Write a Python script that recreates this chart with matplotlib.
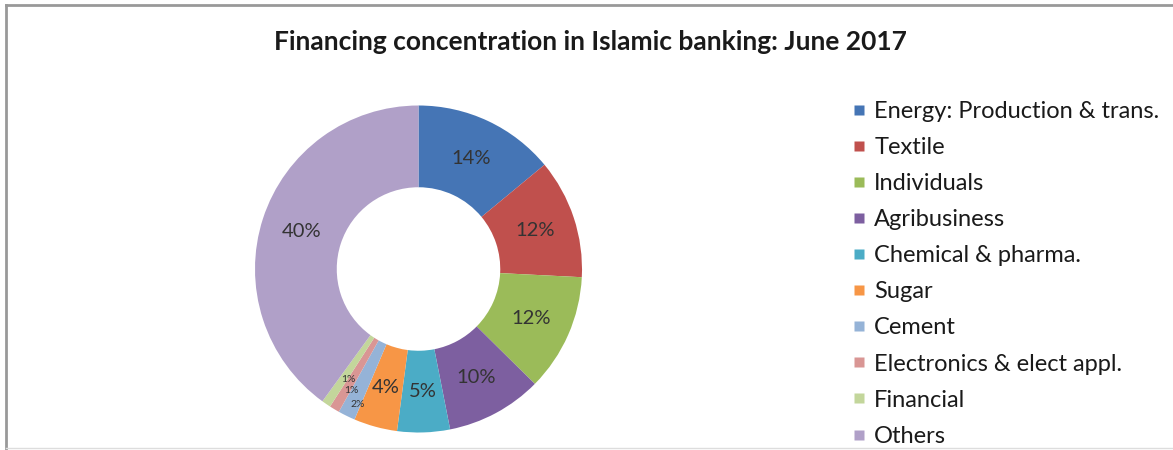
import numpy as np
import matplotlib
matplotlib.use('Agg')
import matplotlib.pyplot as plt
from matplotlib.lines import Line2D

plt.rcParams['font.family'] = ['Lato', 'DejaVu Sans']

# data (share of financing, %)
sectors = ['Energy: Production & trans.', 'Textile', 'Individuals', 'Agribusiness',
           'Chemical & pharma.', 'Sugar', 'Cement', 'Electronics & elect appl.',
           'Financial', 'Others']
shares = [14.0, 11.8, 11.6, 9.5, 5.2, 4.3, 1.7, 1.0, 0.9, 40.0]
colors = ['#4575B5', '#C0504D', '#9BBB59', '#7D5FA0', '#4BACC6',
          '#F79646', '#95B3D7', '#D99694', '#C3D69B', '#B0A0C8']

fig = plt.figure(figsize=(11.73, 4.5), dpi=100)

ax = fig.add_axes([255 / 1173, (450 - 269 - 163.5) / 450, 327 / 1173, 327 / 450])
wedges, texts, autotexts = ax.pie(shares, colors=colors, startangle=90, counterclock=False,
                                  radius=1, autopct='%1.0f%%', pctdistance=0.75,
                                  wedgeprops=dict(width=0.5, edgecolor='none'),
                                  textprops=dict(fontsize=14.5, color='#333333'))
ax.set_xlim(-1, 1)
ax.set_ylim(-1, 1)
ax.set_aspect('equal')

# the three tiny slices get small labels stacked across the ring
for r, w, t in zip([0.91, 0.85, 0.80], wedges[6:9], autotexts[6:9]):
    mid = np.deg2rad((w.theta1 + w.theta2) / 2 + 2)
    t.set_position((r * np.cos(mid), r * np.sin(mid)))
    t.set_fontsize(7.5)

fig.text(590 / 1173, 1 - 42 / 450, 'Financing concentration in Islamic banking: June 2017',
         ha='center', va='center', fontsize=19, fontweight='bold', color='#1a1a1a')

handles = [Line2D([], [], marker='s', linestyle='none', markersize=7.5,
                  markerfacecolor=c, markeredgecolor='none') for c in colors]
fig.legend(handles, sectors, loc='upper left', bbox_to_anchor=(840 / 1173, 1 - 89 / 450),
           frameon=False, fontsize=17, handlelength=0.65, handletextpad=0.3,
           labelspacing=0.64, borderpad=0, labelcolor='#1a1a1a')

# frame lines of the original image
fig.add_artist(Line2D([6 / 1173, 1], [1 - 5 / 450, 1 - 5 / 450], color='#999999', lw=2))
fig.add_artist(Line2D([6 / 1173, 6 / 1173], [0, 1 - 5 / 450], color='#999999', lw=2))
fig.add_artist(Line2D([6 / 1173, 1], [2 / 450, 2 / 450], color='#dddddd', lw=1))

fig.savefig('out.png', dpi=100)
